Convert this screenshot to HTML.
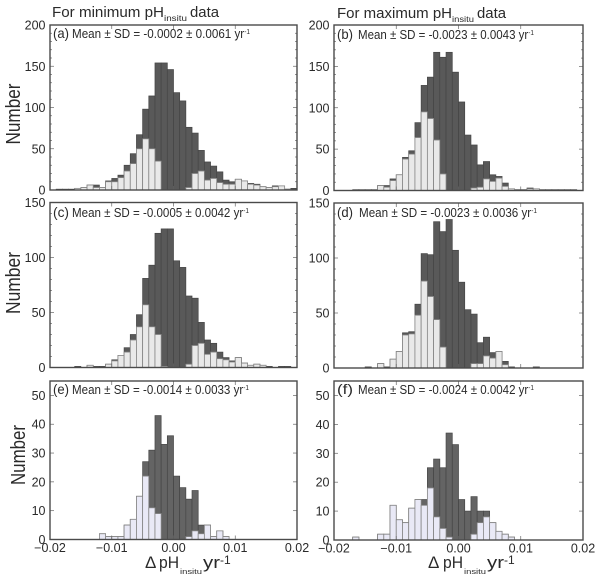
<!DOCTYPE html>
<html>
<head>
<meta charset="utf-8">
<title>Histograms of pH change</title>
<style>
html,body{margin:0;padding:0;background:#fff;}
svg{display:block;}
text{font-family:"Liberation Sans",sans-serif;fill:#2a2a2a;}
</style>
</head>
<body>
<svg id="chart" width="600" height="579" viewBox="0 0 600 579" xmlns="http://www.w3.org/2000/svg">
<g id="marks"></g>
<text y="17" font-size="15"><tspan x="52" textLength="112" lengthAdjust="spacingAndGlyphs">For minimum pH</tspan><tspan x="164" font-size="8" dy="4" textLength="23" lengthAdjust="spacingAndGlyphs">insitu</tspan><tspan x="190" dy="-4" textLength="29" lengthAdjust="spacingAndGlyphs">data</tspan></text>
<text y="18" font-size="15"><tspan x="337" textLength="115" lengthAdjust="spacingAndGlyphs">For maximum pH</tspan><tspan x="452" font-size="8" dy="4" textLength="22" lengthAdjust="spacingAndGlyphs">insitu</tspan><tspan x="477" dy="-4" textLength="29" lengthAdjust="spacingAndGlyphs">data</tspan></text>
<text transform="translate(20,114) rotate(-90)" font-size="20" text-anchor="middle" textLength="61" lengthAdjust="spacingAndGlyphs">Number</text>
<text transform="translate(20,283) rotate(-90)" font-size="20" text-anchor="middle" textLength="62" lengthAdjust="spacingAndGlyphs">Number</text>
<text transform="translate(25,455) rotate(-90)" font-size="20" text-anchor="middle" textLength="60" lengthAdjust="spacingAndGlyphs">Number</text>
<text y="568" font-size="17"><tspan x="145">Δ</tspan><tspan x="159" textLength="20" lengthAdjust="spacingAndGlyphs">pH</tspan><tspan x="180" font-size="7" dy="6" textLength="22" lengthAdjust="spacingAndGlyphs">insitu</tspan><tspan x="203" dy="-6" textLength="17" lengthAdjust="spacingAndGlyphs">yr</tspan><tspan x="220" font-size="12" dy="-4">-1</tspan></text>
<text y="568" font-size="17"><tspan x="428">Δ</tspan><tspan x="443" textLength="20" lengthAdjust="spacingAndGlyphs">pH</tspan><tspan x="464" font-size="7" dy="6" textLength="22" lengthAdjust="spacingAndGlyphs">insitu</tspan><tspan x="487" dy="-6" textLength="17" lengthAdjust="spacingAndGlyphs">yr</tspan><tspan x="504" font-size="12" dy="-4">-1</tspan></text>
</svg>
<script>
// Bin layout of every histogram
var binStart = -0.02;
var binWidth = 0.001;
var xTicks = [-0.02, -0.01, 0, 0.01, 0.02];
var xTickLabels = ["\u22120.02", "\u22120.01", "0.00", "0.01", "0.02"];

var yTicksTall = [0, 50, 100, 150, 200];
var yTicksMid = [0, 50, 100, 150];
var yTicksShort = [0, 10, 20, 30, 40, 50];

// Panel (a)
var totalA = [0,1,1,1,2,3,6,6,3,11,14,18,30,44,67,98,114,154,154,146,118,108,76,69,48,34,29,22,12,10,13,11,8,7,4,3,5,5,1,2];
var lightA = [0,0,0,0,2,3,6,3,3,10,10,15,23,32,50,62,50,35,0,0,0,0,3,20,23,12,14,9,7,7,13,11,7,6,4,3,4,5,1,0];
// Panel (b)
var totalB = [0,0,0,1,1,1,1,6,6,14,19,40,48,82,127,137,167,161,167,143,107,67,55,31,35,19,17,9,2,1,1,3,2,1,1,1,1,1,1,0];
var lightB = [0,0,0,0,0,0,0,6,4,12,19,38,44,64,95,87,61,20,0,0,0,0,3,4,14,11,15,5,2,0,0,2,2,0,0,0,0,0,0,0];
// Panel (c)
var totalC = [0,0,0,0,1,0,2,1,1,3,7,11,18,30,48,81,93,122,126,126,97,91,65,63,41,25,22,14,9,6,9,4,2,3,2,1,0,1,1,0];
var lightC = [0,0,0,0,0,0,2,0,0,3,6,11,14,25,37,57,37,30,1,0,0,0,3,20,22,12,14,8,7,5,9,4,2,3,2,0,0,0,0,0];
// Panel (d)
var totalD = [0,0,0,0,0,1,0,4,1,8,15,32,33,58,104,103,133,124,135,107,78,53,49,23,28,14,15,6,1,0,0,0,1,0,0,0,0,0,0,0];
var lightD = [0,0,0,0,0,0,0,4,0,8,15,30,31,48,79,65,44,19,0,0,0,0,4,4,11,9,15,3,0,0,0,0,0,0,0,0,0,0,0,0];
// Panel (e)
var totalE = [0,0,0,0,0,0,0,0,2,1,1,1,5,7,15,27,31,43,33,36,22,18,14,17,5,5,1,3,1,0,0,0,0,0,0,0,0,0,0,0];
var lightE = [0,0,0,0,0,0,0,0,2,1,1,1,5,7,15,22,11,9,0,0,0,0,1,3,2,5,1,3,1,0,0,0,0,0,0,0,0,0,0,0];
// Panel (f)
var totalF = [0,0,0,1,0,0,0,2,2,12,7,6,11,14,14,25,28,25,37,33,14,10,15,10,10,6,3,2,1,0,0,0,0,0,0,0,0,0,0,0];
var lightF = [0,0,0,1,0,0,0,2,2,12,7,6,11,14,12,18,8,4,1,0,0,0,2,6,8,6,3,2,1,0,0,0,0,0,0,0,0,0,0,0];

var NS = "http://www.w3.org/2000/svg";
var root = document.getElementById("marks");

function make(tag, attrs, parent) {
  var el = document.createElementNS(NS, tag);
  for (var k in attrs) { el.setAttribute(k, attrs[k]); }
  parent.appendChild(el);
  return el;
}

function drawPanel(p) {
  var g = make("g", {}, root);
  
  

  var xMin = -0.02, xMax = 0.02;
  function xScale(v) { return p.left + (v - xMin) / (xMax - xMin) * (p.right - p.left); }
  function yScale(v) { return p.bottom - v / p.yMax * (p.bottom - p.top); }

  // dark total bars, then the light subset on top
  p.total.forEach(function (v, i) {
    if (v <= 0) { return; }
    var x0 = xScale(binStart + i * binWidth);
    var x1 = xScale(binStart + (i + 1) * binWidth);
    var bar = make("rect", {x: x0, y: yScale(v), width: x1 - x0, height: yScale(0) - yScale(v), fill: p.darkFill, stroke: "#454545", "stroke-width": 0.7}, g);
    
    
  });
  p.light.forEach(function (v, i) {
    if (v <= 0) { return; }
    var x0 = xScale(binStart + i * binWidth);
    var x1 = xScale(binStart + (i + 1) * binWidth);
    var bar = make("rect", {x: x0, y: yScale(v), width: x1 - x0, height: yScale(0) - yScale(v), fill: p.lightFill, stroke: "#858585", "stroke-width": 0.8}, g);
    
    
  });

  // y ticks, with minor marks on the upper panels only
  var yStep = p.yTicks[1] - p.yTicks[0];
  var minorStep = p.minor ? yStep / 5 : yStep;
  for (var m = 0; m <= p.yMax + 0.001; m += minorStep) {
    var isMajor = Math.abs(m / yStep - Math.round(m / yStep)) < 0.001;
    var len = isMajor ? 4 : 2;
    var yy = yScale(m);
    var tl = make("line", {x1: p.left, x2: p.left + len, y1: yy, y2: yy, stroke: "#666", "stroke-width": 0.7}, g);
    
    
    var tr = make("line", {x1: p.right, x2: p.right - len, y1: yy, y2: yy, stroke: "#666", "stroke-width": 0.7}, g);
    
    
  }
  p.yTicks.forEach(function (v) {
    var t = make("text", {x: p.left - 4.5, y: yScale(v) + 4.5, "font-size": 12.5, "text-anchor": "end"}, g);
    t.textContent = String(v);
    
    
  });

  // x ticks, top and bottom
  xTicks.forEach(function (v, i) {
    var xx = xScale(v);
    var tb = make("line", {x1: xx, x2: xx, y1: p.bottom, y2: p.bottom - 4, stroke: "#666", "stroke-width": 0.7}, g);
    
    
    var tt = make("line", {x1: xx, x2: xx, y1: p.top, y2: p.top + 4, stroke: "#666", "stroke-width": 0.7}, g);
    
    
    if (p.showX) {
      var t = make("text", {x: xx, y: p.bottom + 12.5, "font-size": 12.5, "text-anchor": "middle"}, g);
      t.textContent = xTickLabels[i];
      
      
    }
  });

  // frame
  var frame = make("rect", {x: p.left, y: p.top, width: p.right - p.left, height: p.bottom - p.top, fill: "none", stroke: "#4a4a4a", "stroke-width": 1.4}, g);
  
  

  // panel letter and statistics
  var letter = make("text", {x: p.left + 3, y: p.statY, "font-size": 14, textLength: 16, lengthAdjust: "spacingAndGlyphs"}, g);
  letter.textContent = "(" + p.id + ")";
  
  

  var stat = make("text", {x: p.statX, y: p.statY, "font-size": 12.5, textLength: p.statLen, lengthAdjust: "spacingAndGlyphs"}, g);
  
  
  var s1 = make("tspan", {}, stat);
  s1.textContent = p.stat + " yr";
  var s2 = make("tspan", {"font-size": 7, dy: -4}, stat);
  s2.textContent = "-1";
}

drawPanel({id: "a", left: 50, right: 297, top: 25, bottom: 190, yMax: 200, yTicks: yTicksTall, minor: true, total: totalA, light: lightA, darkFill: "#595959", lightFill: "#e9e9e9", showX: false, stat: "Mean \u00b1 SD = -0.0002 \u00b1 0.0061", statX: 72, statLen: 178, statY: 38});
drawPanel({id: "b", left: 334, right: 583, top: 25, bottom: 190.5, yMax: 200, yTicks: yTicksTall, minor: true, total: totalB, light: lightB, darkFill: "#595959", lightFill: "#e9e9e9", showX: false, stat: "Mean \u00b1 SD = -0.0023 \u00b1 0.0043", statX: 358, statLen: 176, statY: 39});
drawPanel({id: "c", left: 50, right: 297, top: 202.5, bottom: 367.5, yMax: 150, yTicks: yTicksMid, minor: true, total: totalC, light: lightC, darkFill: "#595959", lightFill: "#e9e9e9", showX: false, stat: "Mean \u00b1 SD = -0.0005 \u00b1 0.0042", statX: 72, statLen: 177, statY: 217});
drawPanel({id: "d", left: 334, right: 583, top: 203, bottom: 368, yMax: 150, yTicks: yTicksMid, minor: true, total: totalD, light: lightD, darkFill: "#595959", lightFill: "#e9e9e9", showX: false, stat: "Mean \u00b1 SD = -0.0023 \u00b1 0.0036", statX: 359, statLen: 178, statY: 217});
drawPanel({id: "e", left: 50, right: 297, top: 381, bottom: 539.5, yMax: 55, yTicks: yTicksShort, minor: false, total: totalE, light: lightE, darkFill: "#646464", lightFill: "#e9e9f6", showX: true, stat: "Mean \u00b1 SD = -0.0014 \u00b1 0.0033", statX: 72, statLen: 177, statY: 394});
drawPanel({id: "f", left: 334, right: 583, top: 381, bottom: 540, yMax: 55, yTicks: yTicksShort, minor: false, total: totalF, light: lightF, darkFill: "#646464", lightFill: "#e9e9f6", showX: true, stat: "Mean \u00b1 SD = -0.0024 \u00b1 0.0042", statX: 358, statLen: 176, statY: 394});
</script>
</body>
</html>
